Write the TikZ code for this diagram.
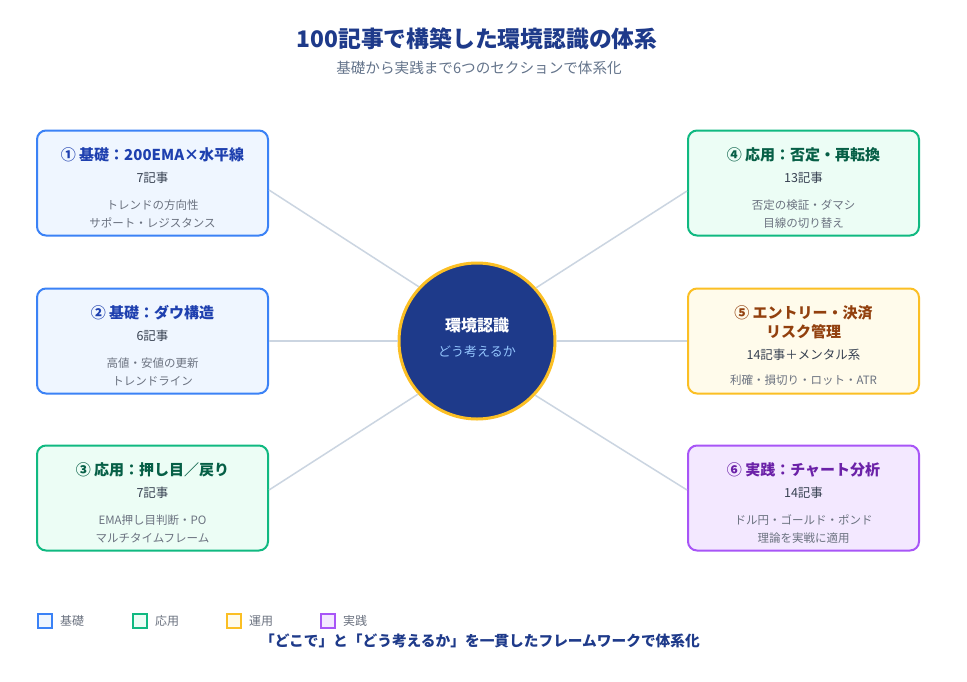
\documentclass[tikz,border=0pt]{standalone}
\usepackage{fontspec}
\setmainfont{Noto Sans CJK JP}
\usepackage{tikz}
\usetikzlibrary{positioning, calc}
\definecolor{navy}{HTML}{1E3A8A}
\definecolor{amber}{HTML}{FBBF24}
\definecolor{subgray}{HTML}{64748B}
\definecolor{linkgray}{HTML}{CBD5E1}
\definecolor{countgray}{HTML}{374151}
\definecolor{detailgray}{HTML}{6B7280}
\definecolor{kisoline}{HTML}{3B82F6}
\definecolor{kisofill}{HTML}{EFF6FF}
\definecolor{kisotext}{HTML}{1E40AF}
\definecolor{oyoline}{HTML}{10B981}
\definecolor{oyofill}{HTML}{ECFDF5}
\definecolor{oyotext}{HTML}{065F46}
\definecolor{unyoline}{HTML}{FBBF24}
\definecolor{unyofill}{HTML}{FFFBEB}
\definecolor{unyotext}{HTML}{92400E}
\definecolor{jissenline}{HTML}{A855F7}
\definecolor{jissenfill}{HTML}{F3E8FF}
\definecolor{jissentext}{HTML}{6B21A8}
\definecolor{hubtext}{HTML}{93C5FD}
\tikzstyle{card}       = [rectangle, rounded corners=9pt, minimum width=231pt, minimum height=105pt, line width=2pt]
\tikzstyle{kiso}       = [card, draw=kisoline,   fill=kisofill]
\tikzstyle{oyo}        = [card, draw=oyoline,    fill=oyofill]
\tikzstyle{unyo}       = [card, draw=unyoline,   fill=unyofill]
\tikzstyle{jissen}     = [card, draw=jissenline, fill=jissenfill]
\tikzstyle{cardtitle}  = [inner sep=0pt, align=center, font=\fontsize{15}{19}\selectfont\bfseries]
\tikzstyle{cardcount}  = [inner sep=0pt, text=countgray,  font=\fontsize{12.5}{15}\selectfont]
\tikzstyle{carddetail} = [inner sep=0pt, align=center, text=detailgray, font=\fontsize{11.5}{18}\selectfont]
\tikzstyle{link}       = [draw=linkgray, line width=1.5pt]
\tikzstyle{swatch}     = [rectangle, minimum size=14pt, inner sep=0pt, line width=2pt]
\tikzstyle{legendtext} = [inner sep=0pt, anchor=west, text=detailgray, font=\fontsize{12}{14}\selectfont]

\begin{document}
\begin{tikzpicture}[x=1pt, y=-1pt]
  \useasboundingbox[fill=white] (0,0) rectangle (967,681);

  % title
  \node[inner sep=0pt, text=navy, font=\fontsize{22.8}{27}\selectfont\bfseries] (head) at (477,39) {100記事で構築した環境認識の体系};
  \node[inner sep=0pt, text=subgray, font=\fontsize{14.6}{17}\selectfont] (subhead) at (479,68) {基礎から実践まで6つのセクションで体系化};

  % cards
  \node[kiso]   (b1) at (152.5,183) {};
  \node[kiso]   (b2) at (152.5,341) {};
  \node[oyo]    (b3) at (152.5,498) {};
  \node[oyo]    (b4) at (803.5,183) {};
  \node[unyo]   (b5) at (803.5,341) {};
  \node[jissen] (b6) at (803.5,498) {};

  % hub
  \node[circle, minimum size=156pt, fill=navy, draw=amber, line width=3pt] (hub) at (477,341) {};

  % links
  \draw[link] ([yshift=-7pt]b1.east) -- (hub.137.5);
  \draw[link] (b2.east) -- (hub.west);
  \draw[link] ([yshift=8pt]b3.east) -- (hub.222.5);
  \draw[link] ([yshift=-8pt]b4.west) -- (hub.42.5);
  \draw[link] (b5.west) -- (hub.east);
  \draw[link] ([yshift=8pt]b6.west) -- (hub.317.5);

  \node[inner sep=0pt, text=white, font=\fontsize{16}{19}\selectfont\bfseries] (hubname) at (477,325) {環境認識};
  \node[inner sep=0pt, text=hubtext, font=\fontsize{13}{16}\selectfont] (hubsub) at (477,352) {どう考えるか};

  % card texts
  \node[cardtitle, text=kisotext] (t1) at ($(b1)+(0,-28)$) {① 基礎：200EMA×水平線};
  \node[cardcount]  (n1) at ($(b1)+(0,-5)$) {7記事};
  \node[carddetail] (d1) at ($(b1)+(0,31)$) {トレンドの方向性\\サポート・レジスタンス};

  \node[cardtitle, text=kisotext] (t2) at ($(b2)+(0,-28)$) {② 基礎：ダウ構造};
  \node[cardcount]  (n2) at ($(b2)+(0,-5)$) {6記事};
  \node[carddetail] (d2) at ($(b2)+(0,31)$) {高値・安値の更新\\トレンドライン};

  \node[cardtitle, text=oyotext] (t3) at ($(b3)+(0,-28)$) {③ 応用：押し目／戻り};
  \node[cardcount]  (n3) at ($(b3)+(0,-5)$) {7記事};
  \node[carddetail] (d3) at ($(b3)+(0,31)$) {EMA押し目判断・PO\\マルチタイムフレーム};

  \node[cardtitle, text=oyotext] (t4) at ($(b4)+(0,-28)$) {④ 応用：否定・再転換};
  \node[cardcount]  (n4) at ($(b4)+(0,-5)$) {13記事};
  \node[carddetail] (d4) at ($(b4)+(0,31)$) {否定の検証・ダマシ\\目線の切り替え};

  \node[cardtitle, text=unyotext] (t5) at ($(b5)+(0,-18.5)$) {⑤ エントリー・決済\\リスク管理};
  \node[cardcount]  (n5) at ($(b5)+(0,14)$) {14記事＋メンタル系};
  \node[carddetail] (d5) at ($(b5)+(0,39)$) {利確・損切り・ロット・ATR};

  \node[cardtitle, text=jissentext] (t6) at ($(b6)+(0,-28)$) {⑥ 実践：チャート分析};
  \node[cardcount]  (n6) at ($(b6)+(0,-5)$) {14記事};
  \node[carddetail] (d6) at ($(b6)+(0,31)$) {ドル円・ゴールド・ポンド\\理論を実戦に適用};

  % legend
  \node[swatch, draw=kisoline, fill=kisofill]     (s1) at (44.5,621) {};
  \node[legendtext] (l1) at (60,621) {基礎};
  \node[swatch, draw=oyoline, fill=oyofill]       (s2) at (139.5,621) {};
  \node[legendtext] (l2) at (155,621) {応用};
  \node[swatch, draw=unyoline, fill=unyofill]     (s3) at (233.5,621) {};
  \node[legendtext] (l3) at (249,621) {運用};
  \node[swatch, draw=jissenline, fill=jissenfill] (s4) at (327.5,621) {};
  \node[legendtext] (l4) at (343,621) {実践};

  \node[inner sep=0pt, text=navy, font=\fontsize{14.7}{17}\selectfont\bfseries] (foot) at (480,641) {「どこで」と「どう考えるか」を一貫したフレームワークで体系化};
\end{tikzpicture}
\end{document}
